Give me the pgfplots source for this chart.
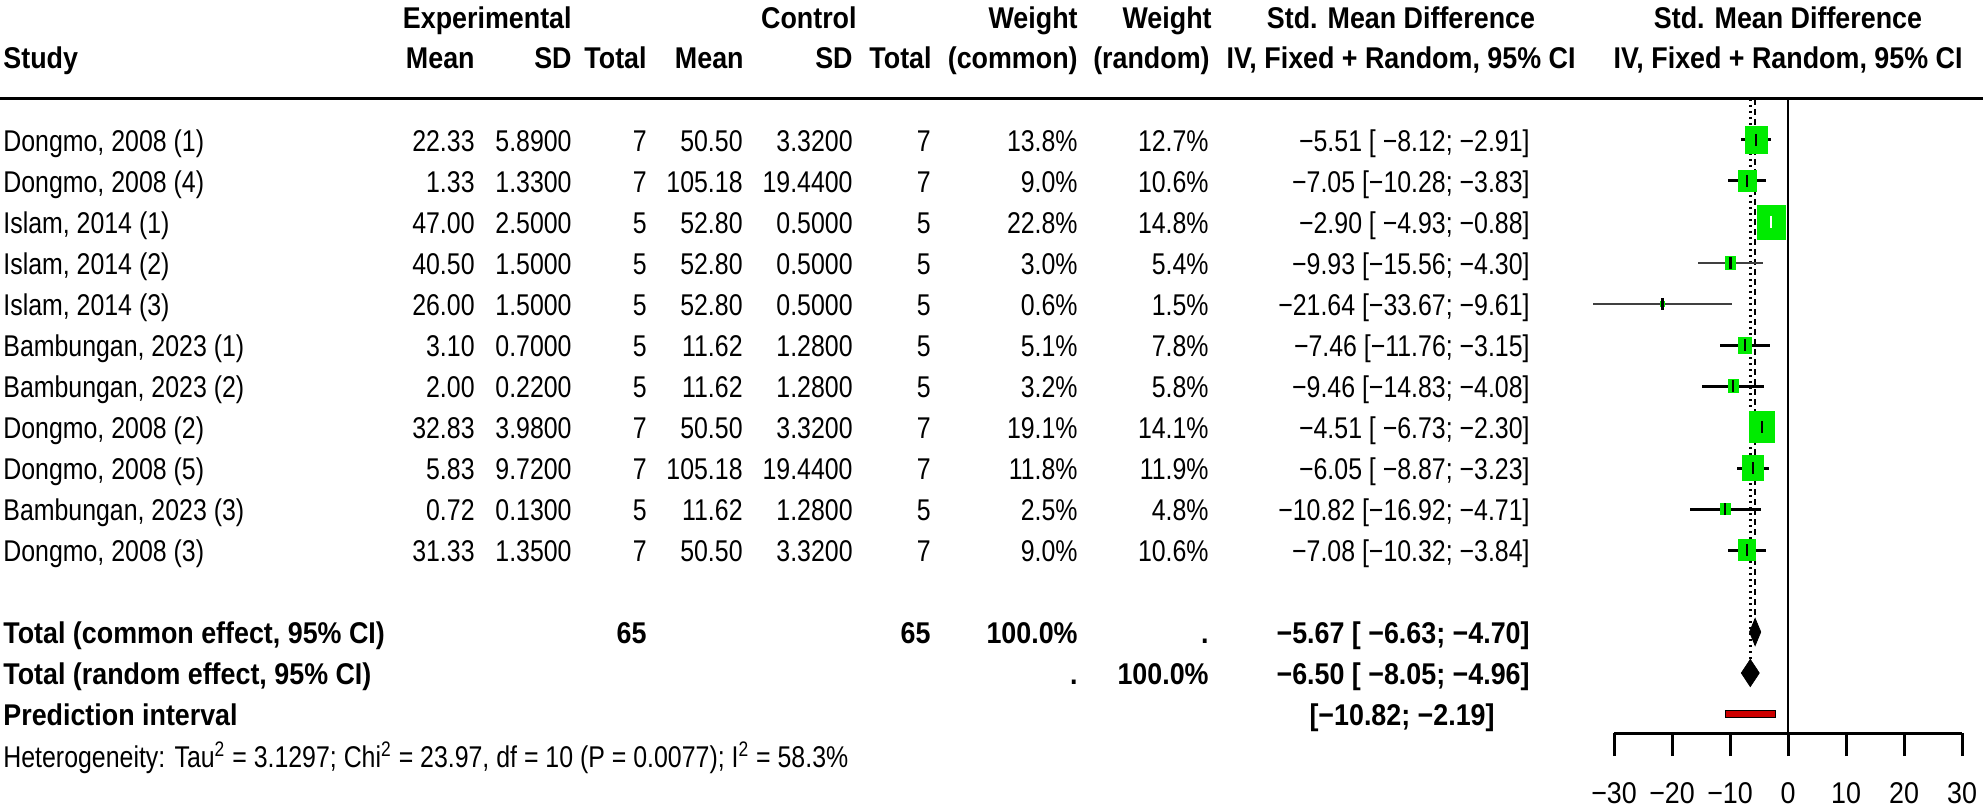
\documentclass[border=0pt]{standalone}
\usepackage{fontspec}
\setmainfont{Liberation Sans}[UprightFeatures={FakeStretch=0.83}, BoldFeatures={FakeStretch=0.895}]
\newfontfamily\tickfam{Liberation Sans}[FakeStretch=0.895]
\usepackage{pgfplots}
\pgfplotsset{compat=1.18}
\usepackage{pgfplotstable}
\definecolor{boxgreen}{RGB}{0,235,0}
\definecolor{pired}{RGB}{205,0,0}
\newcommand\tf{\fontsize{15pt}{17pt}\selectfont}

% row: position in the list; est/lo/hi: SMD and 95% CI; wc: weight (common); cls: line style class
\pgfplotstableread{
row est lo hi wc cls
1 -5.51 -8.12 -2.91 13.8 0
2 -7.05 -10.28 -3.83 9.0 0
3 -2.90 -4.93 -0.88 22.8 1
4 -9.93 -15.56 -4.30 3.0 2
5 -21.64 -33.67 -9.61 0.6 2
6 -7.46 -11.76 -3.15 5.1 0
7 -9.46 -14.83 -4.08 3.2 0
8 -4.51 -6.73 -2.30 19.1 0
9 -6.05 -8.87 -3.23 11.8 0
10 -10.82 -16.92 -4.71 2.5 0
11 -7.08 -10.32 -3.84 9.0 0
}\studies

\begin{document}
\begin{tikzpicture}[x=0.5pt,y=-0.5pt, txt/.style={font=\tf, inner sep=0pt}]
\useasboundingbox (0,0) rectangle (1985,812);
\newcommand\TL[3]{\node[txt, anchor=base west] at (#1,#2) {#3};}
\newcommand\TR[3]{\node[txt, anchor=base east] at (#1,#2) {#3};}
\newcommand\TC[3]{\node[txt, anchor=base] at (#1,#2) {#3};}
\newcommand\RowA[8]{%
  \TL{3}{{110.5+41*#1}}{#2}\TR{475}{{110.5+41*#1}}{#3}\TR{572}{{110.5+41*#1}}{#4}%
  \TR{647}{{110.5+41*#1}}{#5}\TR{743}{{110.5+41*#1}}{#6}\TR{853}{{110.5+41*#1}}{#7}%
  \TR{931}{{110.5+41*#1}}{#8}}
\newcommand\RowB[4]{%
  \TR{1078}{{110.5+41*#1}}{#2}\TR{1209}{{110.5+41*#1}}{#3}\TR{1530}{{110.5+41*#1}}{#4}}
% header
\TR{572}{28.5}{\bfseries Experimental}
\TR{857}{28.5}{\bfseries Control}
\TR{1078}{28.5}{\bfseries Weight}
\TR{1212}{28.5}{\bfseries Weight}
\TC{1401}{28.5}{\bfseries Std. Mean Difference}
\TC{1788}{28.5}{\bfseries Std. Mean Difference}
\TL{3}{68.5}{\bfseries Study}
\TR{475}{68.5}{\bfseries Mean}
\TR{572}{68.5}{\bfseries SD}
\TR{647}{68.5}{\bfseries Total}
\TR{744}{68.5}{\bfseries Mean}
\TR{853}{68.5}{\bfseries SD}
\TR{932}{68.5}{\bfseries Total}
\TR{1078}{68.5}{\bfseries (common)}
\TR{1210}{68.5}{\bfseries (random)}
\TC{1401}{68.5}{\bfseries IV, Fixed + Random, 95\% CI}
\TC{1788}{68.5}{\bfseries IV, Fixed + Random, 95\% CI}
\draw[line width=1.5pt] (0,99) -- (1983,99);
% rows
\RowA{1}{Dongmo, 2008 (1)}{22.33}{5.8900}{7}{50.50}{3.3200}{7}
\RowB{1}{13.8\%}{12.7\%}{−5.51 [ −8.12; −2.91]}
\RowA{2}{Dongmo, 2008 (4)}{1.33}{1.3300}{7}{105.18}{19.4400}{7}
\RowB{2}{9.0\%}{10.6\%}{−7.05 [−10.28; −3.83]}
\RowA{3}{Islam, 2014 (1)}{47.00}{2.5000}{5}{52.80}{0.5000}{5}
\RowB{3}{22.8\%}{14.8\%}{−2.90 [ −4.93; −0.88]}
\RowA{4}{Islam, 2014 (2)}{40.50}{1.5000}{5}{52.80}{0.5000}{5}
\RowB{4}{3.0\%}{5.4\%}{−9.93 [−15.56; −4.30]}
\RowA{5}{Islam, 2014 (3)}{26.00}{1.5000}{5}{52.80}{0.5000}{5}
\RowB{5}{0.6\%}{1.5\%}{−21.64 [−33.67; −9.61]}
\RowA{6}{Bambungan, 2023 (1)}{3.10}{0.7000}{5}{11.62}{1.2800}{5}
\RowB{6}{5.1\%}{7.8\%}{−7.46 [−11.76; −3.15]}
\RowA{7}{Bambungan, 2023 (2)}{2.00}{0.2200}{5}{11.62}{1.2800}{5}
\RowB{7}{3.2\%}{5.8\%}{−9.46 [−14.83; −4.08]}
\RowA{8}{Dongmo, 2008 (2)}{32.83}{3.9800}{7}{50.50}{3.3200}{7}
\RowB{8}{19.1\%}{14.1\%}{−4.51 [ −6.73; −2.30]}
\RowA{9}{Dongmo, 2008 (5)}{5.83}{9.7200}{7}{105.18}{19.4400}{7}
\RowB{9}{11.8\%}{11.9\%}{−6.05 [ −8.87; −3.23]}
\RowA{10}{Bambungan, 2023 (3)}{0.72}{0.1300}{5}{11.62}{1.2800}{5}
\RowB{10}{2.5\%}{4.8\%}{−10.82 [−16.92; −4.71]}
\RowA{11}{Dongmo, 2008 (3)}{31.33}{1.3500}{7}{50.50}{3.3200}{7}
\RowB{11}{9.0\%}{10.6\%}{−7.08 [−10.32; −3.84]}
% totals
\TL{3}{643.5}{\bfseries Total (common effect, 95\% CI)}
\TR{647}{643.5}{\bfseries 65}
\TR{931}{643.5}{\bfseries 65}
\TR{1078}{643.5}{\bfseries 100.0\%}
\TR{1209}{643.5}{\bfseries .}
\TR{1530}{643.5}{\bfseries −5.67 [ −6.63; −4.70]}
\TL{3}{684.5}{\bfseries Total (random effect, 95\% CI)}
\TR{1078}{684.5}{\bfseries .}
\TR{1209}{684.5}{\bfseries 100.0\%}
\TR{1530}{684.5}{\bfseries −6.50 [ −8.05; −4.96]}
\TL{3}{725.5}{\bfseries Prediction interval}
\TR{1495}{725.5}{\bfseries [−10.82; −2.19]}
\TL{3}{767}{Heterogeneity: Tau\textsuperscript{2} = 3.1297; Chi\textsuperscript{2} = 23.97, df = 10 (P = 0.0077); I\textsuperscript{2} = 58.3\%}

\begin{axis}[
  at={(807pt,-366.5pt)}, anchor=south west,
  scale only axis, width=174pt, height=317pt,
  xmin=-30, xmax=30, ymin=-15.4634, ymax=0, clip=false,
  axis x line*=bottom, axis y line=none,
  xtick={-30,-20,-10,0,10,20,30},
  xticklabels={−30,−20,−10,0,10,20,30},
  tick align=outside, major tick length=11.5pt,
  every tick/.style={black, line width=1.5pt},
  axis line style={line width=1.5pt},
  xticklabel style={font=\tickfam\tf, inner sep=0pt, yshift=-13pt},
]
% reference lines
\addplot[black, line width=1pt] coordinates {(0,0) (0,-15.4634)};
\addplot[black, line width=1pt, dash pattern=on 3pt off 2pt] coordinates {(-5.67,0) (-5.67,-13.32)};
\addplot[black, line width=1.2pt, dash pattern=on 1pt off 2pt] coordinates {(-6.50,0) (-6.50,-14.32)};
% study boxes
\addplot[only marks, mark=square*, scatter,
  scatter/use mapped color={draw=boxgreen, fill=boxgreen},
  visualization depends on={1.467*sqrt(\thisrow{wc}) \as \msize},
  scatter/@pre marker code/.append style={/tikz/mark size=\msize},
  mark options={yscale=1.22}]
  table[x=est, y expr=-\thisrow{row}] {\studies};
% confidence intervals
\addplot[black, only marks, mark=|, mark size=3pt, mark options={line width=1.2pt},
  x filter/.expression={\thisrow{cls}==0 ? x : nan},
  error bars/.cd, x dir=both, x explicit, error mark=none,
  error bar style={line width=1.5pt}]
  table[x=est, y expr=-\thisrow{row},
    x error plus expr=\thisrow{hi}-\thisrow{est},
    x error minus expr=\thisrow{est}-\thisrow{lo}] {\studies};
\addplot[white, only marks, mark=|, mark size=3pt, mark options={line width=1pt},
  x filter/.expression={\thisrow{cls}==1 ? x : nan},
  error bars/.cd, x dir=both, x explicit, error mark=none,
  error bar style={line width=1pt}]
  table[x=est, y expr=-\thisrow{row},
    x error plus expr=\thisrow{hi}-\thisrow{est},
    x error minus expr=\thisrow{est}-\thisrow{lo}] {\studies};
\addplot[black!75, only marks, mark=|, mark size=3pt, mark options={line width=1.2pt, black},
  x filter/.expression={\thisrow{cls}==2 ? x : nan},
  error bars/.cd, x dir=both, x explicit, error mark=none,
  error bar style={line width=1pt}]
  table[x=est, y expr=-\thisrow{row},
    x error plus expr=\thisrow{hi}-\thisrow{est},
    x error minus expr=\thisrow{est}-\thisrow{lo}] {\studies};
% pooled diamonds
\addplot[fill=black, draw=black] coordinates {(-6.63,-13) (-5.67,-12.67) (-4.70,-13) (-5.67,-13.33)} -- cycle;
\addplot[fill=black, draw=black] coordinates {(-8.05,-14) (-6.50,-13.67) (-4.96,-14) (-6.50,-14.33)} -- cycle;
% prediction interval
\addplot[fill=pired, draw=black, line width=0.5pt] coordinates {(-10.82,-14.915) (-2.19,-14.915) (-2.19,-15.085) (-10.82,-15.085)} -- cycle;
\end{axis}
\end{tikzpicture}
\end{document}
